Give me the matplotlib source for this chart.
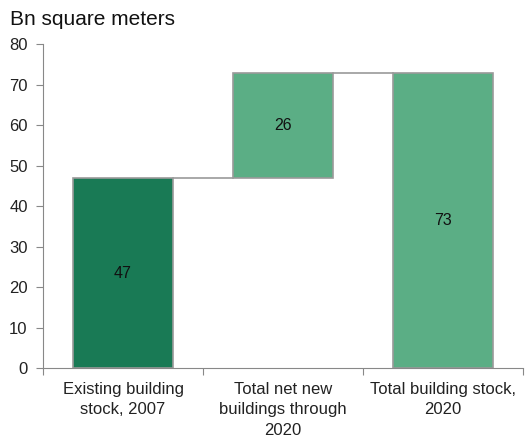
import numpy as np
import matplotlib.pyplot as plt

plt.rcParams['font.family'] = ['Liberation Sans', 'DejaVu Sans']

categories = ['Existing building\nstock, 2007', 'Total net new\nbuildings through\n2020',
              'Total building stock,\n2020']
values = [47, 26, 73]
bottoms = [0, 47, 0]
colors = ['#197a55', '#5bae85', '#5bae85']

fig = plt.figure(figsize=(5.31, 4.42), dpi=100)
ax = fig.add_axes([0.081, 0.167, 0.904, 0.733])

x = np.arange(len(values))
bars = ax.bar(x, values, bottom=bottoms, width=0.63, color=colors,
              edgecolor='#9a9a9a', linewidth=1.2, zorder=2)

# connectors between bars
for i in range(len(values) - 1):
    top = bottoms[i] + values[i]
    ax.plot([x[i] + 0.315, x[i + 1] - 0.315], [top, top], color='#9a9a9a', lw=1.2, zorder=1)

for xi, v, b in zip(x, values, bottoms):
    ax.text(xi, b + v / 2, str(v), ha='center', va='center', fontsize=11.5, color='#111111')

ax.set_xlim(-0.5, 2.5)
ax.set_ylim(0, 80)
ax.set_yticks(range(0, 81, 10))
ax.set_xticks([-0.5, 0.5, 1.5, 2.5])
ax.set_xticklabels([])
ax.set_xticks(x, minor=True)
ax.set_xticklabels(categories, minor=True, fontsize=12, linespacing=1.45)
ax.tick_params(axis='x', which='minor', length=0, pad=10, colors='#222222')
ax.tick_params(axis='x', which='major', length=5, color='#888888', direction='out')
ax.tick_params(axis='y', length=5, color='#888888', labelsize=12, labelcolor='#222222', pad=6)
for s in ['top', 'right']:
    ax.spines[s].set_visible(False)
for s in ['left', 'bottom']:
    ax.spines[s].set_color('#888888')

fig.text(0.018, 0.955, 'Bn square meters', fontsize=15, va='center', color='#111111')

fig.savefig('out.png', dpi=100)
